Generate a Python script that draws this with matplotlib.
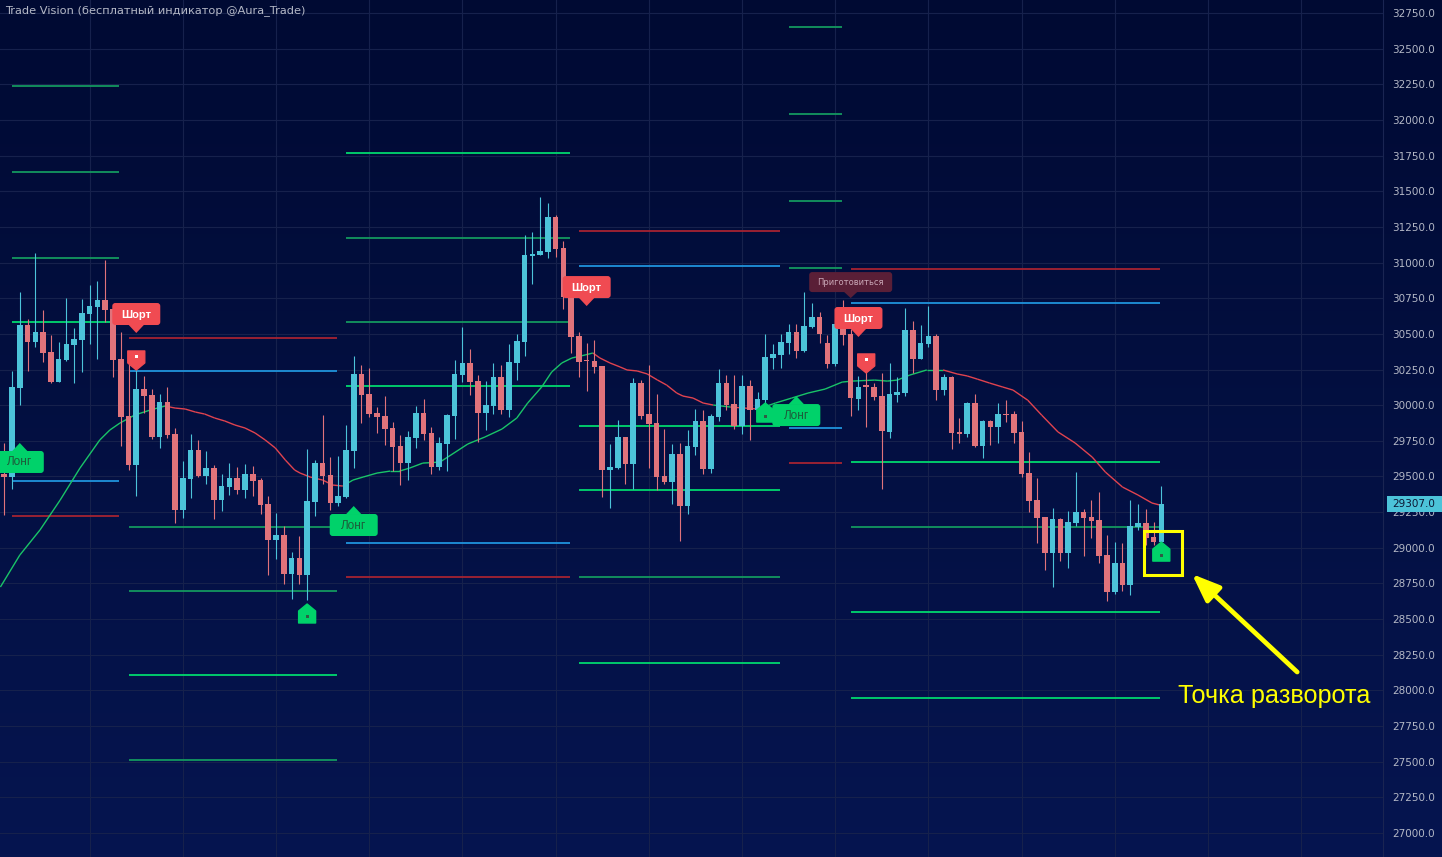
import matplotlib
matplotlib.use("Agg")
import matplotlib.pyplot as plt
import matplotlib.colors as mcolors
import numpy as np
from matplotlib.patches import FancyBboxPatch, Polygon, Rectangle
from matplotlib.collections import LineCollection
from matplotlib.transforms import IdentityTransform

# ---------------- data ----------------
opens = [29517, 29498, 30122, 30562, 30445, 30513, 30373, 30165, 30317, 30424,
         30457, 30641, 30690, 30737, 30674, 30324, 29924, 29580, 30113, 30071,
         29779, 30022, 29798, 29267, 29484, 29686, 29505, 29559, 29337, 29428,
         29489, 29407, 29517, 29475, 29307, 29057, 29090, 28818, 28928, 28807,
         29321, 29594, 29510, 29314, 29356, 29681, 30219, 30078, 29945, 29924,
         29840, 29714, 29594, 29770, 29945, 29805, 29566, 29728, 29924, 30212,
         30296, 30169, 29945, 29994, 30198, 29966, 30296, 30443, 31046, 31053,
         31074, 31319, 31102, 30765, 30485, 30317, 30310, 30275, 29545, 29559,
         29777, 29587, 30155, 29938, 29875, 29503, 29461, 29658, 29293, 29707,
         29889, 29552, 29917, 30155, 30008, 29854, 30134, 29966, 30036, 30331,
         30352, 30436, 30513, 30380, 30548, 30618, 30436, 30289, 30569, 30499,
         30043, 30141, 30127, 30064, 29812, 30071, 30085, 30527, 30324, 30429,
         30485, 30106, 30198, 29812, 29798, 30015, 29714, 29889, 29847, 29938,
         29938, 29812, 29524, 29335, 29216, 28963, 29202, 28963, 29174, 29251,
         29216, 29195, 28949, 28690, 28893, 28739, 29146, 29174, 29076, 29040]
highs = [29735, 30240, 30794, 30604, 31065, 30667, 30492, 30443, 30751, 30541,
         30744, 30843, 30871, 31018, 30695, 30513, 30296, 30247, 30205, 30113,
         30078, 30127, 29840, 29608, 29798, 29756, 29679, 29580, 29517, 29594,
         29566, 29587, 29573, 29489, 29363, 29244, 29153, 28970, 29083, 29695,
         29615, 29931, 29637, 29644, 29861, 30345, 30282, 30261, 29987, 30064,
         29882, 29791, 29819, 29994, 30043, 29847, 29777, 29938, 30317, 30548,
         30394, 30212, 30169, 30296, 30282, 30429, 30499, 31193, 31214, 31460,
         31418, 31333, 31151, 30772, 30513, 30436, 30457, 30275, 29728, 29896,
         29777, 30190, 30176, 30282, 30078, 29833, 29728, 29735, 29826, 29973,
         29966, 29938, 30254, 30212, 30212, 30212, 30176, 30092, 30499, 30429,
         30499, 30569, 30569, 30794, 30716, 30653, 30492, 30597, 30737, 30534,
         30205, 30233, 30155, 30226, 30296, 30197, 30681, 30590, 30562, 30695,
         30499, 30219, 30205, 29910, 30022, 30078, 29896, 29896, 30015, 30036,
         29959, 29889, 29672, 29489, 29216, 29279, 29209, 29258, 29531, 29272,
         29335, 29391, 29090, 29040, 29033, 29335, 29307, 29272, 29181, 29433]
lows = [29230, 29410, 30001, 30242, 30410, 30305, 30153, 30160, 30312, 30157,
        30235, 30431, 30326, 30585, 30200, 29714, 29545, 29365, 29943, 29763,
        29702, 29772, 29176, 29211, 29352, 29498, 29449, 29204, 29260, 29372,
        29379, 29352, 29365, 29239, 28811, 28923, 28748, 28643, 28748, 28634,
        29225, 29449, 29265, 29295, 29347, 29561, 29875, 29917, 29805, 29721,
        29538, 29440, 29475, 29700, 29756, 29517, 29545, 29538, 29763, 30162,
        30071, 29742, 29826, 29938, 29938, 29917, 30176, 30345, 30850, 31053,
        31032, 31039, 30674, 30366, 30197, 30099, 30226, 29356, 29279, 29552,
        29447, 29412, 29903, 29559, 29405, 29447, 29307, 29047, 29237, 29651,
        29517, 29524, 29889, 29966, 29833, 29798, 29756, 29910, 29966, 30254,
        30261, 30359, 30331, 30373, 30541, 30436, 30261, 30275, 30422, 29924,
        29966, 29847, 30036, 29412, 29770, 30022, 30064, 30226, 30324, 30408,
        30036, 30071, 29693, 29735, 29777, 29707, 29629, 29721, 29735, 29882,
        29735, 29496, 29251, 29033, 28844, 28725, 28907, 28858, 29153, 28942,
        29069, 28893, 28627, 28676, 28697, 28669, 29125, 29019, 29019, 29019]
closes = [29496, 30129, 30562, 30445, 30513, 30368, 30165, 30324, 30429, 30464,
          30646, 30695, 30737, 30667, 30317, 29919, 29580, 30113, 30066, 29779,
          30022, 29791, 29267, 29489, 29686, 29505, 29559, 29337, 29433, 29489,
          29407, 29517, 29470, 29302, 29057, 29090, 28818, 28928, 28807, 29328,
          29594, 29505, 29314, 29363, 29686, 30219, 30071, 29938, 29917, 29833,
          29707, 29594, 29777, 29945, 29798, 29566, 29735, 29931, 30219, 30296,
          30162, 29945, 30001, 30198, 29966, 30303, 30450, 31053, 31060, 31081,
          31319, 31095, 30758, 30478, 30303, 30310, 30268, 29545, 29566, 29777,
          29587, 30155, 29924, 29868, 29496, 29461, 29658, 29293, 29714, 29889,
          29552, 29924, 30155, 30001, 29854, 30134, 29966, 30043, 30338, 30359,
          30443, 30513, 30380, 30555, 30618, 30499, 30289, 30569, 30492, 30050,
          30127, 30127, 30057, 29819, 30078, 30092, 30527, 30324, 30436, 30485,
          30106, 30198, 29805, 29798, 30015, 29714, 29889, 29847, 29938, 29931,
          29805, 29517, 29328, 29209, 28963, 29202, 28963, 29181, 29251, 29209,
          29188, 28942, 28690, 28893, 28739, 29153, 29174, 29069, 29040, 29307]

# trend line (moving average) read at sample candle positions
ema_x = [-0.5, 2.0, 4.6, 7.2, 9.75, 12.3, 13.6, 14.9, 16.8, 18.8, 20.7, 22.0, 23.3,
         24.6, 25.8, 27.1, 28.4, 29.7, 31.0, 32.3, 33.6, 34.9, 36.2, 37.4, 38.1, 39.4,
         41.0, 42.3, 43.6, 44.9, 46.2, 48.0, 49.7, 50.9, 52.2, 53.9, 56.1, 57.1, 59.7,
         61.9, 64.1, 66.0, 67.4, 69.2, 70.5, 71.8, 73.1, 74.8, 75.8, 76.7, 78.0, 79.3,
         80.2, 81.5, 82.8, 84.1, 85.3, 86.6, 87.4, 88.7, 90.0, 91.3, 93.5, 97.1, 99.3,
         101.4, 103.5, 105.7, 107.9, 109.2, 112.1, 113.7, 115.0, 116.6, 118.8, 120.9,
         122.7, 124.0, 125.3, 126.9, 128.6, 129.9, 131.8, 133.6, 135.7, 137.9, 140.1,
         141.8, 144.0, 146.0, 147.8, 148.8]
ema_v = [28725, 28949, 29125, 29335, 29559, 29756, 29826, 29875, 29931, 29966, 29994,
         29980, 29973, 29952, 29938, 29910, 29889, 29861, 29840, 29805, 29756, 29700,
         29615, 29545, 29524, 29496, 29475, 29440, 29433, 29475, 29496, 29524, 29538,
         29538, 29559, 29594, 29601, 29636, 29728, 29777, 29833, 29910, 30015, 30127,
         30233, 30296, 30331, 30352, 30366, 30331, 30296, 30268, 30247, 30240, 30219,
         30177, 30141, 30085, 30064, 30050, 30015, 30001, 29987, 29973, 30015, 30050,
         30085, 30113, 30162, 30169, 30176, 30169, 30176, 30211, 30247, 30247, 30219,
         30205, 30183, 30155, 30127, 30106, 30035, 29930, 29812, 29735, 29636, 29531,
         29426, 29370, 29314, 29300]
ema_turns = [21.1, 43.9, 75.8, 90.9, 93.2, 97.1, 121.2]   # colour flips (starts green)

# period levels
lvl_start = [1, 16, 44, 74, 101, 109]
lvl_end = [14.8, 42.8, 72.9, 99.9, 107.9, 148.8]
lvl_prices = [[32238, 31635, 31032, 30583, 29468, 29223],
              [30471, 30240, 29146, 28697, 28108, 27512],
              [31768, 31172, 30583, 30134, 29033, 28795],
              [31221, 30976, 29854, 29405, 28795, 28192],
              [32652, 32042, 31431, 30962, 29840, 29594],
              [30955, 30716, 29601, 29146, 28550, 27946]]
lvl_kinds = [['G', 'G', 'G', 'GB', 'B', 'R'],
             ['R', 'B', 'G', 'G', 'GB', 'G'],
             ['GB', 'G', 'G', 'GB', 'B', 'R'],
             ['R', 'B', 'GB', 'GB', 'G', 'GB'],
             ['G', 'G', 'G', 'G', 'B', 'R'],
             ['R', 'B', 'GB', 'G', 'GB', 'GB']]

# signal labels: (candle, price of pointer tip, text, kind)
signals = [(2, 29735, 'Лонг', 'long'),
           (17, 30506, 'Шорт', 'short'),
           (17, 30247, '·', 'short_small'),
           (39, 28606, '·', 'long_small'),
           (45, 29293, 'Лонг', 'long'),
           (75, 30695, 'Шорт', 'short'),
           (98, 30015, '·', 'long_small'),
           (102, 30064, 'Лонг', 'long'),
           (109, 30751, 'Приготовиться', 'prep'),
           (110, 30478, 'Шорт', 'short'),
           (111, 30226, '·', 'short_small'),
           (149, 29040, '·', 'long_small')]

title = "Trade Vision (бесплатный индикатор @Aura_Trade)"
annot_text = "Точка разворота"
price_ticks = list(range(27000, 32751, 250))
last_price = closes[-1]

# ---------------- style ----------------
UP = '#4cc3d9'
DN = '#e0737b'
LVL_COL = {'G': '#13985f', 'GB': '#00d86e', 'B': '#1f93dc', 'R': '#a52332'}
EMA_G = '#19c468'
EMA_R = '#e0434f'
GRID = '#16214c'
TXT = '#b4b8c6'

W, H = 1442, 857
fig = plt.figure(figsize=(W / 100, H / 100), dpi=100)

bg = fig.add_axes([0, 0, 1, 1])
c0 = np.array(mcolors.to_rgb('#000a33'))
c1 = np.array(mcolors.to_rgb('#061550'))
g = np.linspace(0, 1, 256)[:, None, None]
bg.imshow(c0 + (c1 - c0) * g, aspect='auto', extent=[0, 1, 0, 1], origin='upper')
bg.set_axis_off()

AXW = 1383
ax = fig.add_axes([0, 0, AXW / W, 1])
ax.set_facecolor('none')
XMIN, XMAX = -0.55, 177.55
YMIN, YMAX = 26832, 32841
ax.set_xlim(XMIN, XMAX)
ax.set_ylim(YMIN, YMAX)
for s in ax.spines.values():
    s.set_visible(False)

# grid + price axis
ax.set_yticks(price_ticks)
ax.set_yticklabels([f"{p:.1f}" for p in price_ticks])
ax.yaxis.tick_right()
ax.tick_params(axis='y', length=0, pad=6.5, labelsize=7.5, labelcolor=TXT)
for lab in ax.get_yticklabels():
    lab.set_fontfamily('DejaVu Sans')
vgrid = np.arange(11, XMAX, 12)
ax.set_xticks(vgrid)
ax.tick_params(axis='x', length=0, labelbottom=False)
ax.grid(True, color=GRID, lw=0.8, zorder=0)
ax.set_axisbelow(True)
ax.plot([XMAX, XMAX], [YMIN, YMAX], color='#1a2552', lw=0.8, clip_on=False)

# levels
for s0, s1, prices, kinds in zip(lvl_start, lvl_end, lvl_prices, lvl_kinds):
    for p, k in zip(prices, kinds):
        ax.hlines(p, s0, s1, colors=LVL_COL[k], lw=1.3, zorder=2)

# trend line
ex = np.array(ema_x); ev = np.array(ema_v)
segs = np.stack([np.column_stack([ex[:-1], ev[:-1]]), np.column_stack([ex[1:], ev[1:]])], axis=1)
mids = (ex[:-1] + ex[1:]) / 2
flips = np.searchsorted(np.array(ema_turns), mids)
cols = [EMA_G if f % 2 == 0 else EMA_R for f in flips]
ax.add_collection(LineCollection(segs, colors=cols, linewidths=1.0, zorder=3))

# candles
o = np.array(opens); h = np.array(highs); l = np.array(lows); c = np.array(closes)
idx = np.arange(len(o))
up = c > o
cc = np.where(up, UP, DN)
ax.vlines(idx, l, h, colors=cc, lw=0.8, zorder=4)
ax.bar(idx, np.maximum(np.abs(c - o), 8), bottom=np.minimum(o, c), width=0.72,
       color=cc, linewidth=0, zorder=5)

# signal labels (drawn in pixel units around the data anchor)
ID = IdentityTransform()


def draw_label(i, price, text, kind):
    x, y = ax.transData.transform((i, price))
    if kind in ('long', 'short', 'prep'):
        if kind == 'prep':
            bw, bh, th, tb, fc = 83, 20, 6, 7, '#5a1f37'
        else:
            bw, bh, th, tb = 48, 22, 8, 8
            fc = '#f04b52' if kind == 'short' else '#00d26a'
        if kind == 'long':
            top = y - th
            box_y = top - bh
            tri = [(x, y), (x - tb, top - 0.5), (x + tb, top - 0.5)]
        else:
            box_y = y + th
            tri = [(x, y), (x - tb, box_y + 0.5), (x + tb, box_y + 0.5)]
        fig.add_artist(FancyBboxPatch((x - bw / 2, box_y), bw, bh,
                                      boxstyle='round,pad=0,rounding_size=3',
                                      fc=fc, ec='none', transform=ID, zorder=20))
        fig.add_artist(Polygon(tri, closed=True, fc=fc, ec='none', transform=ID, zorder=20))
        if kind == 'short':
            fig.text(x, box_y + bh / 2 - 0.5, text, transform=ID, ha='center', va='center',
                     color='white', fontsize=8, fontweight='bold',
                     family='Liberation Sans', zorder=21)
        elif kind == 'long':
            fig.text(x, box_y + bh / 2 - 0.5, text, transform=ID, ha='center', va='center',
                     color='#1d5a3a', fontsize=8.5, family='Liberation Sans', zorder=21)
        else:
            fig.text(x, box_y + bh / 2, text, transform=ID, ha='center', va='center',
                     color='#c9a6b6', fontsize=6, family='DejaVu Sans', zorder=21)
    else:
        bw, bh, th = 17, 19, 7
        hw = bw / 2
        if kind == 'short_small':
            fc, dot = '#f04b52', 'white'
            pts = [(x, y), (x + hw, y + th), (x + hw, y + bh), (x - hw, y + bh), (x - hw, y + th)]
            cy = y + th + (bh - th) / 2
        else:
            fc, dot = '#00d26a', '#2f5c44'
            pts = [(x, y), (x + hw, y - th), (x + hw, y - bh), (x - hw, y - bh), (x - hw, y - th)]
            cy = y - th - (bh - th) / 2
        fig.add_artist(Polygon(pts, closed=True, fc=fc, ec=fc, lw=1.0, joinstyle='round',
                               transform=ID, zorder=20))
        fig.add_artist(Rectangle((x - 1.5, cy - 1.5), 3, 3, fc=dot, ec='none',
                                 transform=ID, zorder=21))


for i, p, t, k in signals:
    draw_label(i, p, t, k)

# highlight box + arrow + annotation
ax.add_patch(Rectangle((146.8, 28810), 151.7 - 146.8, 29120 - 28810, fill=False,
                       ec='#ffff00', lw=2.2, zorder=22, clip_on=False))
ax.annotate('', xy=(152.95, 28816), xytext=(166.5, 28129),
            arrowprops=dict(arrowstyle='-|>,head_length=1.4,head_width=0.55',
                            color='#ffff00', lw=3.4, mutation_scale=12,
                            shrinkA=0, shrinkB=0), zorder=22)
ax.text(151.15, 27912, annot_text, color='#ffff00', fontsize=18.2,
        family='Liberation Sans', ha='left', va='baseline', zorder=22)

# title
fig.text(5 / W, 1 - 11 / H, title, color=TXT, fontsize=8.2, family='DejaVu Sans',
         ha='left', va='center')

# last price tag
_, yp = ax.transData.transform((0, last_price))
fig.add_artist(Rectangle((AXW + 4, yp - 8), W - AXW - 4, 16, fc='#4cc3d9', ec='none',
                         transform=ID, zorder=30))
fig.text(AXW + 9, yp, f"{last_price:.1f}", transform=ID, color='#0c1633', fontsize=7.5,
         family='DejaVu Sans', ha='left', va='center', zorder=31)

fig.savefig('out.png', dpi=100, facecolor='#000a33')
